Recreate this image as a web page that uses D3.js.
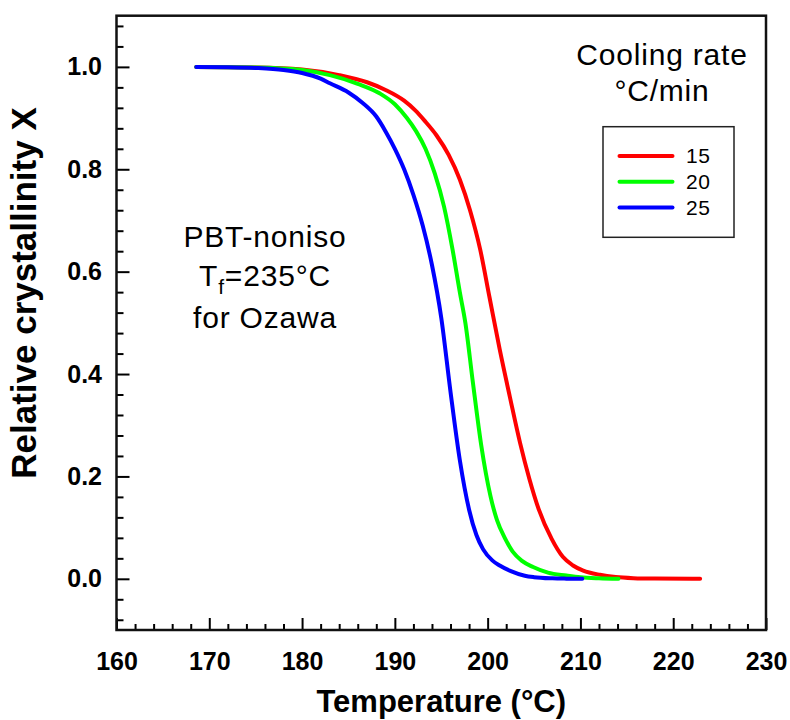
<!DOCTYPE html>
<html>
<head>
<meta charset="utf-8">
<script src="https://cdn.jsdelivr.net/npm/d3@7"></script>
<style>
  html, body { margin: 0; padding: 0; background: #fff; }
  svg { display: block; font-family: "Liberation Sans", Arial, Helvetica, sans-serif; }
</style>
</head>
<body>
<svg id="chart" width="790" height="720"></svg>
<script>
// ---- Data ----
const seriesNames = ["15", "20", "25"];
const seriesColors = ["#ff0000", "#00ff00", "#0000ff"];

// cooling rate 15 °C/min
const tempRed = [168.6, 175, 180, 184, 187, 189, 191, 192.2, 193.2, 194.5, 195.8, 197, 198.1, 199.2, 200.2, 201.3, 202.4, 203.5, 204.5, 205.5, 206.9, 208.1, 209.2, 210.3, 212.1, 213.8, 215.7, 218, 222.9];
const xRed    = [1.0, 0.999, 0.995, 0.984, 0.970, 0.955, 0.934, 0.915, 0.895, 0.866, 0.828, 0.78, 0.72, 0.643, 0.55, 0.448, 0.355, 0.265, 0.195, 0.136, 0.078, 0.043, 0.026, 0.016, 0.0078, 0.0035, 0.0013, 0.0004, 0.0];

// cooling rate 20 °C/min
const tempGreen = [168.6, 175, 180, 183, 186, 188.4, 190, 191.3, 192.3, 193.3, 194.3, 195.3, 196.2, 197, 197.6, 198.4, 199.3, 200.3, 201, 201.9, 202.7, 203.7, 204.9, 206.5, 208.5, 210, 212, 214.1];
const xGreen    = [1.0, 0.999, 0.994, 0.984, 0.967, 0.948, 0.927, 0.900, 0.874, 0.840, 0.792, 0.727, 0.645, 0.56, 0.5, 0.385, 0.262, 0.162, 0.115, 0.078, 0.053, 0.035, 0.023, 0.012, 0.0064, 0.003, 0.001, 0.0];

// cooling rate 25 °C/min
const tempBlue = [168.6, 172, 175, 178, 180, 182, 183, 185, 186.5, 188, 189, 190, 191, 192, 193, 194, 195, 196, 197, 198, 198.8, 199.5, 200.5, 201.3, 202.5, 204, 205, 207, 208.5, 210.2];
const xBlue    = [1.0, 0.9995, 0.998, 0.994, 0.988, 0.977, 0.968, 0.95, 0.93, 0.903, 0.874, 0.840, 0.800, 0.75, 0.69, 0.613, 0.51, 0.365, 0.232, 0.135, 0.085, 0.058, 0.036, 0.026, 0.015, 0.006, 0.0032, 0.0009, 0.0003, 0.0];

const xMajorTicks = [160, 170, 180, 190, 200, 210, 220, 230];
const yMajorTicks = [0.0, 0.2, 0.4, 0.6, 0.8, 1.0];

const xTitle = "Temperature (°C)";
const yTitle = "Relative crystallinity X";
const legendTitle = ["Cooling rate", "°C/min"];

// ---- Layout ----
const svg = d3.select("#chart");
const plot = { left: 116.5, right: 766, top: 15.7, bottom: 630 };

const x = d3.scaleLinear().domain([160, 230]).range([plot.left, plot.right]);
const y = d3.scaleLinear().domain([-0.1, 1.1]).range([plot.bottom, plot.top]);

const xMinorTicks = d3.range(160, 230.001, 2).filter(v => v % 10 !== 0);
const yMinorTicks = d3.range(-0.08, 1.1, 0.04).map(v => +v.toFixed(2))
  .filter(v => Math.abs(v / 0.2 - Math.round(v / 0.2)) > 1e-6);

// minor ticks
svg.append("g")
  .attr("transform", `translate(0,${plot.bottom})`)
  .call(d3.axisBottom(x).tickValues(xMinorTicks).tickSize(-6).tickFormat(""))
  .call(g => g.select(".domain").remove())
  .call(g => g.selectAll("line").attr("stroke", "#000").attr("stroke-width", 2));

svg.append("g")
  .attr("transform", `translate(${plot.left},0)`)
  .call(d3.axisLeft(y).tickValues(yMinorTicks).tickSize(-7).tickFormat(""))
  .call(g => g.select(".domain").remove())
  .call(g => g.selectAll("line").attr("stroke", "#000").attr("stroke-width", 2));

// major ticks with labels
svg.append("g")
  .attr("transform", `translate(0,${plot.bottom})`)
  .call(d3.axisBottom(x).tickValues(xMajorTicks).tickSize(-12).tickPadding(22).tickFormat(d3.format("d")))
  .call(g => g.select(".domain").remove())
  .call(g => g.selectAll("line").attr("stroke", "#000").attr("stroke-width", 2))
  .call(g => g.selectAll("text")
    .attr("fill", "#000")
    .style("font-family", "'Liberation Sans', Arial, sans-serif")
    .style("font-size", "25px").style("font-weight", "bold"));

svg.append("g")
  .attr("transform", `translate(${plot.left},0)`)
  .call(d3.axisLeft(y).tickValues(yMajorTicks).tickSize(-13).tickPadding(14.5).tickFormat(d3.format(".1f")))
  .call(g => g.select(".domain").remove())
  .call(g => g.selectAll("line").attr("stroke", "#000").attr("stroke-width", 2))
  .call(g => g.selectAll("text")
    .attr("fill", "#000")
    .style("font-family", "'Liberation Sans', Arial, sans-serif")
    .style("font-size", "25px").style("font-weight", "bold"));

// frame
svg.append("rect")
  .attr("x", plot.left).attr("y", plot.top)
  .attr("width", plot.right - plot.left).attr("height", plot.bottom - plot.top)
  .attr("fill", "none").attr("stroke", "#111").attr("stroke-width", 2.5);

// curves (red drawn first, blue on top)
const series = [
  { name: seriesNames[0], color: seriesColors[0], t: tempRed, v: xRed },
  { name: seriesNames[1], color: seriesColors[1], t: tempGreen, v: xGreen },
  { name: seriesNames[2], color: seriesColors[2], t: tempBlue, v: xBlue }
];

const line = d3.line()
  .x(d => x(d[0]))
  .y(d => y(d[1]))
  .curve(d3.curveMonotoneX);

svg.append("g").selectAll("path")
  .data(series)
  .join("path")
  .attr("d", s => line(s.t.map((t, i) => [t, s.v[i]])))
  .attr("fill", "none")
  .attr("stroke", s => s.color)
  .attr("stroke-width", 4)
  .attr("stroke-linecap", "round")
  .attr("stroke-linejoin", "round");

// axis titles
svg.append("text")
  .attr("x", (plot.left + plot.right) / 2).attr("y", 712)
  .attr("text-anchor", "middle")
  .style("font-size", "31px").style("font-weight", "bold")
  .text(xTitle);

svg.append("text")
  .attr("transform", `translate(36,293) rotate(-90)`)
  .attr("text-anchor", "middle")
  .style("font-size", "35px").style("font-weight", "bold")
  .text(yTitle);

// annotation
const ann = svg.append("g").style("font-size", "30px").style("letter-spacing", "0.8px").attr("text-anchor", "middle");
ann.append("text").attr("x", 265).attr("y", 247).text("PBT-noniso");
const tf = ann.append("text").attr("x", 265).attr("y", 286);
tf.append("tspan").text("T");
tf.append("tspan").attr("dy", 8).style("font-size", "21px").text("f");
tf.append("tspan").attr("dy", -8).text("=235°C");
ann.append("text").attr("x", 265).attr("y", 328).text("for Ozawa");

// legend
const leg = svg.append("g");
leg.selectAll("text.title")
  .data(legendTitle)
  .join("text")
  .attr("class", "title")
  .attr("x", 662).attr("y", (d, i) => 65 + i * 36)
  .attr("text-anchor", "middle")
  .style("font-size", "30px").style("letter-spacing", "0.8px")
  .text(d => d);

leg.append("rect")
  .attr("x", 603).attr("y", 126.7).attr("width", 131).attr("height", 110.6)
  .attr("fill", "none").attr("stroke", "#222").attr("stroke-width", 1.5);

const items = leg.selectAll("g.item")
  .data(series)
  .join("g")
  .attr("class", "item")
  .attr("transform", (d, i) => `translate(0,${156 + i * 25.8})`);
items.append("line")
  .attr("x1", 619.5).attr("x2", 672.5)
  .attr("stroke", d => d.color).attr("stroke-width", 4).attr("stroke-linecap", "round");
items.append("text")
  .attr("x", 686).attr("dy", "0.35em")
  .style("font-size", "21px").style("letter-spacing", "0.5px")
  .text(d => d.name);
</script>
</body>
</html>
